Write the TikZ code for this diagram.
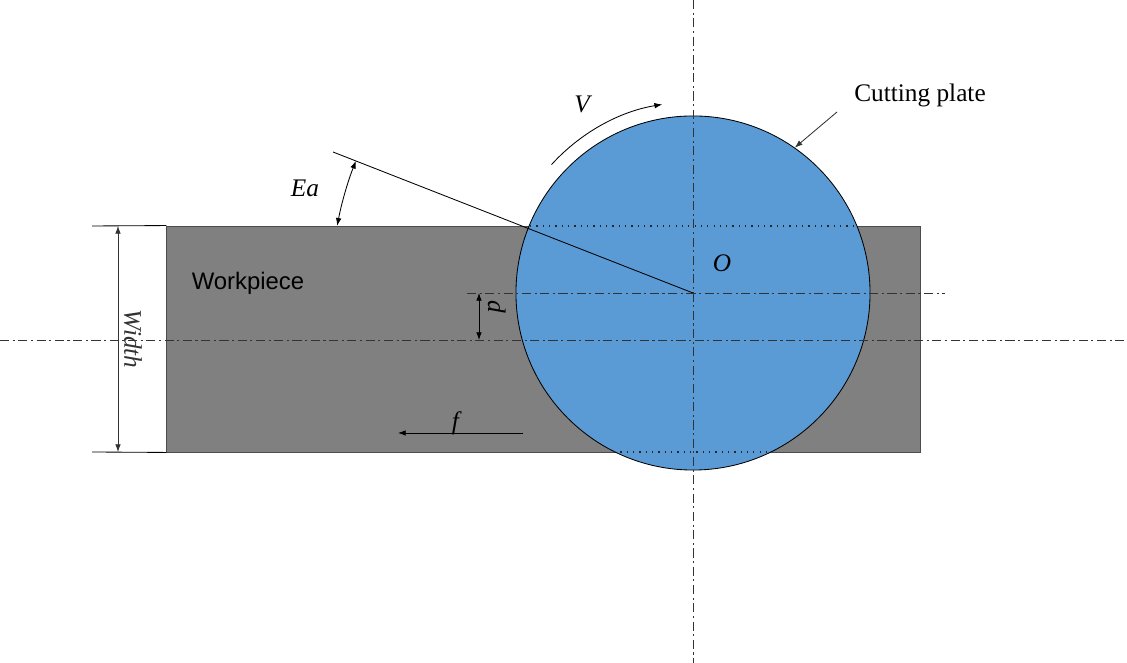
\documentclass[tikz,border=0pt]{standalone}
\usepackage{fontspec}
\setmainfont{Liberation Serif}
\newfontfamily\wpfont{Liberation Sans}
\usetikzlibrary{arrows.meta}
\definecolor{platecol}{HTML}{5B9BD5}
\definecolor{wpcol}{HTML}{808080}

\begin{document}
\begin{tikzpicture}[x=0.025cm, y=0.025cm, line width=0.6pt, >={Latex[length=5.5pt,width=4pt]},
        axis/.style = {draw=black!80, dash pattern=on 6.5pt off 2.5pt on 1.5pt off 2.5pt},
        dots/.style = {draw=black!85, line width=0.9pt, dash pattern=on 0.9pt off 3.6pt},
        lbl/.style = {font=\fontsize{18}{20}\selectfont\itshape, inner sep=1pt}]
            \useasboundingbox (0,0) rectangle (1127,663);

            \node[draw=black!70, fill=wpcol, minimum width=18.825cm, minimum height=5.65cm, inner sep=0pt] (n_wp) at (543.5,324) {};
            \node[draw, circle, fill=platecol, minimum size=8.85cm, inner sep=0pt] (n_plate) at (693,370) {};
            \coordinate (c_O) at (n_plate.center);

            \coordinate (c_t1) at (530,437);
            \coordinate (c_t2) at (856,437);
            \coordinate (c_b1) at (614,211);
            \coordinate (c_b2) at (772,211);
            \draw[dots] (c_t1) -- (c_t2);
            \draw[dots] (c_b1) -- (c_b2);

            \coordinate (c_vt) at (693,663);
            \coordinate (c_vb) at (693,0);
            \coordinate (c_hl) at (0,323);
            \coordinate (c_hr) at (1127,323);
            \coordinate (c_sl) at (467,370);
            \coordinate (c_sr) at (945,370);
            \draw[axis] (c_vt) -- (c_vb);
            \draw[axis] (c_hl) -- (c_hr);
            \draw[axis] (c_sl) -- (c_sr);

            \coordinate (c_ray) at (333,511);
            \draw (c_O) -- (c_ray);
            \coordinate (c_ea) at ([shift={(169.3:9.05cm)}]c_O);
            \draw[<->] (c_ea) arc[start angle=169.3, end angle=158.6, radius=9.05cm];
            \node[lbl] (t_ea) at (305,475) {Ea};

            \coordinate (c_v) at ([shift={(137.8:4.775cm)}]c_O);
            \draw[->] (c_v) arc[start angle=137.8, end angle=99.3, radius=4.775cm];
            \node[lbl] (t_v) at (582,559) {V};

            \node[font=\fontsize{18}{20}\selectfont] (t_plate) at (920,568) {Cutting plate};
            \coordinate (c_lead) at (837,551);
            \draw[->, black!80] (c_lead) -- (n_plate.55);

            \node[font=\wpfont\fontsize{17}{20}\selectfont] (t_wp) at (248,380) {Workpiece};
            \node[lbl] (t_O) at (722,400) {O};

            \coordinate (c_e1) at (92,437);
            \coordinate (c_e2) at (92,211);
            \draw (n_wp.north west) -- (c_e1);
            \draw (n_wp.south west) -- (c_e2);
            \coordinate (c_w1) at (118,437);
            \coordinate (c_w2) at (118,211);
            \draw[<->, black!80] (c_w1) -- node[lbl, midway, rotate=-90, anchor=south, inner sep=4pt] {Width} (c_w2);

            \coordinate (c_d1) at (479,370);
            \coordinate (c_d2) at (479,323);
            \draw[<->] (c_d1) -- node[lbl, pos=0.3, rotate=-90, anchor=south, inner sep=6pt] {d} (c_d2);

            \coordinate (c_f1) at (523,230);
            \coordinate (c_f2) at (398,230);
            \draw[->] (c_f1) -- node[lbl, pos=0.54, yshift=7pt] {f} (c_f2);
        \end{tikzpicture}
\end{document}
